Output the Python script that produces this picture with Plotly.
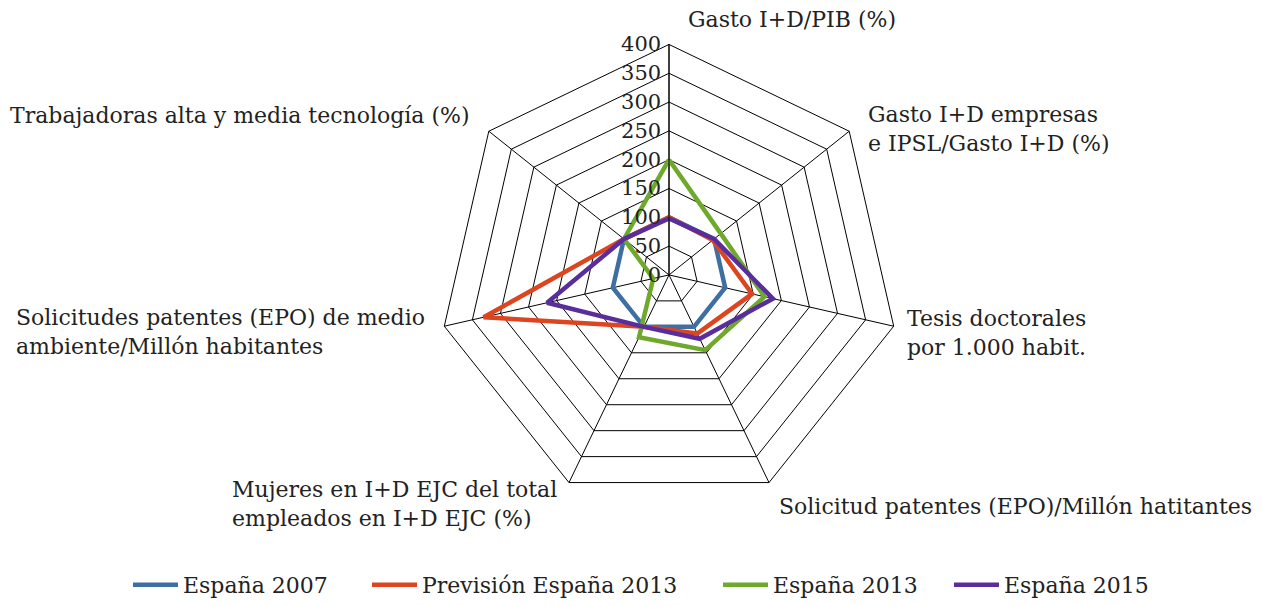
import plotly.graph_objects as go

# Ejes del radar (sentido horario desde arriba)
categorias = [
    "Gasto I+D/PIB (%)",
    "Gasto I+D empresas e IPSL/Gasto I+D (%)",
    "Tesis doctorales por 1.000 habit.",
    "Solicitud patentes (EPO)/Millón hatitantes",
    "Mujeres en I+D EJC del total empleados en I+D EJC (%)",
    "Solicitudes patentes (EPO) de medio ambiente/Millón habitantes",
    "Trabajadoras alta y media tecnología (%)",
]

espana_2007 = [100, 100, 100, 100, 100, 100, 100]
prevision_2013 = [100, 97, 148, 113, 100, 330, 100]
espana_2013 = [200, 115, 170, 145, 120, 28, 100]
espana_2015 = [98, 100, 185, 123, 100, 217, 100]

series = [
    ("España 2007", espana_2007, "#3D6FA3"),
    ("Previsión España 2013", prevision_2013, "#DC4520"),
    ("España 2013", espana_2013, "#6EA92B"),
    ("España 2015", espana_2015, "#5A2D9C"),
]

FONT = "DejaVu Serif"
# la página tiene 8px de margen en el body: la figura se dibuja algo más pequeña
OFF = 8
W, H = 1263 - OFF, 606 - OFF


def px(x):
    return (x - OFF) / W


def py(y):
    return 1 - (y - OFF) / H


fig = go.Figure()
legend_ids = ["legend", "legend2", "legend3", "legend4"]
for (nombre, valores, color), lid in zip(series, legend_ids):
    fig.add_trace(go.Scatterpolar(
        r=valores + valores[:1],
        theta=categorias + categorias[:1],
        mode="lines",
        name=nombre,
        line=dict(color=color, width=4.5),
        legend=lid,
    ))

# etiquetas de los ejes, colocadas a mano como en el original
etiquetas = [
    ("Gasto I+D/PIB (%)", 686, 20),
    ("Gasto I+D empresas<br>e IPSL/Gasto I+D (%)", 866, 131),
    ("Tesis doctorales<br>por 1.000 habit.", 905, 338),
    ("Solicitud patentes (EPO)/Millón hatitantes", 777, 514),
    ("Mujeres en I+D EJC del total<br>empleados en I+D EJC (%)", 230, 512),
    ("Solicitudes patentes (EPO) de medio<br>ambiente/Millón habitantes", 14, 337),
    ("Trabajadoras alta y media tecnología (%)", 8, 117),
]
annotations = [
    dict(text=t, x=px(x), y=py(y), xref="paper", yref="paper",
         xanchor="left", yanchor="middle", align="left", showarrow=False,
         font=dict(family=FONT, size=22, color="#222222"))
    for t, x, y in etiquetas
]

# una leyenda por serie para repartirlas como en el original
legend_x = [128, 367, 718, 949]
legends = {}
for lid, lx in zip(legend_ids, legend_x):
    legends[lid] = dict(
        orientation="h",
        x=px(lx),
        xanchor="left",
        y=py(594),
        yanchor="middle",
        font=dict(family=FONT, size=22, color="#222222"),
        itemwidth=45,
        bgcolor="rgba(0,0,0,0)",
    )

cx, cy, R = 669, 279, 234
fig.update_layout(
    width=W,
    height=H,
    margin=dict(l=0, r=0, t=0, b=0),
    paper_bgcolor="white",
    plot_bgcolor="white",
    font=dict(family=FONT, size=20, color="#222222"),
    polar=dict(
        domain=dict(x=[px(cx - R), px(cx + R)], y=[py(cy + R), py(cy - R)]),
        gridshape="linear",
        bgcolor="white",
        angularaxis=dict(
            direction="clockwise",
            rotation=90,
            showticklabels=False,
            ticks="",
            gridcolor="black",
            gridwidth=1,
            linecolor="black",
            linewidth=1,
        ),
        radialaxis=dict(
            range=[0, 400],
            dtick=50,
            angle=90,
            tickangle=90,
            side="counterclockwise",
            ticks="",
            showline=True,
            linecolor="black",
            gridcolor="black",
            gridwidth=1,
            tickfont=dict(family=FONT, size=21, color="#222222"),
        ),
    ),
    showlegend=True,
    annotations=annotations,
    **legends,
)

fig.write_html("out.html")
